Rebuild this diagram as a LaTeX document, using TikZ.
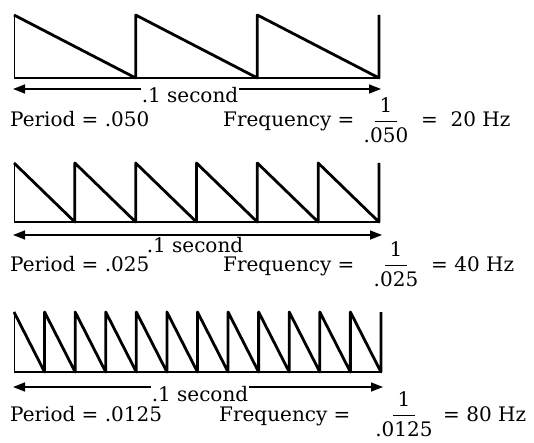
\documentclass[tikz,border=0pt]{standalone}
\usepackage{amsmath}
\usepackage{fontspec}
\setmainfont{DejaVu Serif}
\usetikzlibrary{arrows.meta}

\begin{document}
\begin{tikzpicture}[x=1pt, y=-1pt, >={Triangle[length=12pt,width=9pt]},
	every node/.style={font=\fontsize{20}{24}\selectfont, inner sep=1pt},
	tooth/.style={line width=2.8pt, line join=round},
	base/.style={line width=2pt},
	edge/.style={line width=1pt},
	span/.style={line width=1.6pt, <->}]
	\useasboundingbox (0,0) rectangle (534,443);
	% 20 Hz
	\draw[edge] (14,78) -- (14,15);
	\draw[base] (14,78) -- (379,78);
	\draw[tooth] (14,15) \foreach \i in {1,...,3} { -- (14+121.67*\i,78) -- (14+121.67*\i,15) };
	\coordinate (l1) at (13,89);
	\coordinate (r1) at (381,89);
	\draw[span] (l1) -- (r1);
	\node[fill=white, anchor=base] (sec1) at (190,103) {.1 second};
	\node[anchor=base west] (per1) at (9,127) {Period = .050};
	\node[anchor=base west] (frq1) at (222,127) {Frequency =};
	\node[anchor=base] (frac1) at (386,127) {$\genfrac{}{}{1.1pt}{0}{\text{1}}{\rule{0pt}{16.5pt}\makebox[1.1em]{.050}}$};
	\node[anchor=base west] (hz1) at (420,127) {=\ \ 20 Hz};
	% 40 Hz
	\draw[edge] (14,222) -- (14,163);
	\draw[base] (14,222) -- (379,222);
	\draw[tooth] (14,163) \foreach \i in {1,...,6} { -- (14+60.83*\i,222) -- (14+60.83*\i,163) };
	\coordinate (l2) at (13,235);
	\coordinate (r2) at (382,235);
	\draw[span] (l2) -- (r2);
	\node[fill=white, anchor=base] (sec2) at (195,252) {.1 second};
	\node[anchor=base west] (per2) at (9,271) {Period = .025};
	\node[anchor=base west] (frq2) at (222,271) {Frequency =};
	\node[anchor=base] (frac2) at (396,271) {$\genfrac{}{}{1.1pt}{0}{\text{1}}{\rule{0pt}{16.5pt}\makebox[1.1em]{.025}}$};
	\node[anchor=base west] (hz2) at (430,271) {= 40 Hz};
	% 80 Hz
	\draw[edge] (14,372) -- (14,312);
	\draw[base] (14,372) -- (381,372);
	\draw[tooth] (14,312) \foreach \i in {1,...,12} { -- (14+30.58*\i,372) -- (14+30.58*\i,312) };
	\coordinate (l3) at (13,387);
	\coordinate (r3) at (383,387);
	\draw[span] (l3) -- (r3);
	\node[fill=white, anchor=base] (sec3) at (200,401) {.1 second};
	\node[anchor=base west] (per3) at (9,421) {Period = .0125};
	\node[anchor=base west] (frq3) at (218,421) {Frequency =};
	\node[anchor=base] (frac3) at (404,421) {$\genfrac{}{}{1.1pt}{0}{\text{1}}{\rule{0pt}{16.5pt}\makebox[1.1em]{.0125}}$};
	\node[anchor=base west] (hz3) at (442,421) {= 80 Hz};
\end{tikzpicture}
\end{document}
